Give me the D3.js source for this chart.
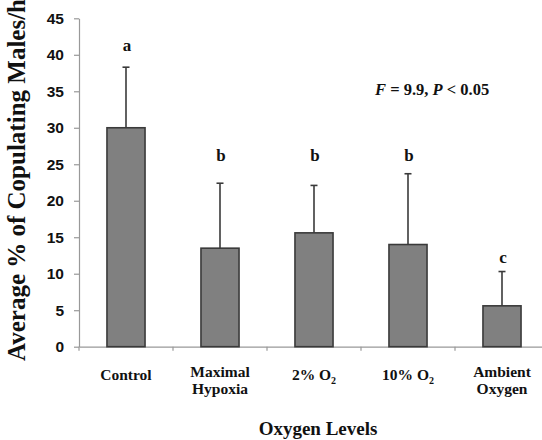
<!DOCTYPE html>
<html><head><meta charset="utf-8">
<script src="https://cdn.jsdelivr.net/npm/d3@7"></script>
<style>body{margin:0;background:#fff}svg{display:block}</style>
</head><body>
<svg id="chart" width="542" height="440"></svg>
<script>
// ---- data ----
const categories = ["Control", "Maximal Hypoxia", "2% O2", "10% O2", "Ambient Oxygen"];
const categoryLabels = [["Control"], ["Maximal", "Hypoxia"], ["2% O₂"], ["10% O₂"], ["Ambient", "Oxygen"]];
const means = [30.0, 13.5, 15.6, 14.0, 5.6];
const errors = [8.3, 8.9, 6.5, 9.7, 4.7];
const groupLetters = ["a", "b", "b", "b", "c"];
const letterLevels = [40.5, 25.4, 25.4, 25.4, 11.5];
const yTicks = [0, 5, 10, 15, 20, 25, 30, 35, 40, 45];
const yTitle = "Average % of Copulating Males/h";
const xTitle = "Oxygen Levels";

const svg = d3.select("#chart");
svg.append("rect").attr("width", 542).attr("height", 440).attr("fill", "#fff");

const y = d3.scaleLinear().domain([0, 45]).range([346.7, 18.3]);
const x = d3.scaleBand().domain(categories).range([79, 549]).paddingInner(0).paddingOuter(0);
const axisColor = "#999";
const serif = "'Liberation Serif', 'Times New Roman', serif";
const sans = "'Liberation Sans', Arial, sans-serif";

// y axis
const gy = svg.append("g").attr("transform", "translate(79,0)")
  .call(d3.axisLeft(y).tickValues(yTicks).tickSize(5).tickPadding(10).tickSizeOuter(0));
gy.select(".domain").attr("stroke", axisColor).attr("stroke-width", 1.2);
gy.selectAll(".tick line").attr("stroke", axisColor).attr("stroke-width", 1.2);
gy.selectAll(".tick text").attr("font-family", sans).attr("font-weight", "bold")
  .attr("font-size", 15.5).attr("fill", "#111");

// x axis
const gx = svg.append("g").attr("transform", `translate(0,${y(0)})`)
  .call(d3.axisBottom(x).tickSize(0).tickFormat("").tickSizeOuter(0));
gx.select(".domain").attr("stroke", axisColor).attr("stroke-width", 1.2);
gx.selectAll(".tick").remove();
svg.append("g").selectAll("line").data(categories).join("line")
  .attr("x1", d => x(d)).attr("x2", d => x(d))
  .attr("y1", y(0)).attr("y2", y(0) + 4)
  .attr("stroke", axisColor).attr("stroke-width", 1.2);

// bars
const bw = x.bandwidth() * 0.405;
const cx = d => x(d) + x.bandwidth() / 2;
svg.append("g").selectAll("rect").data(categories).join("rect")
  .attr("x", d => cx(d) - bw / 2)
  .attr("y", (d, i) => y(means[i]))
  .attr("width", bw)
  .attr("height", (d, i) => y(0) - y(means[i]))
  .attr("fill", "#808080").attr("stroke", "#3a3a3a").attr("stroke-width", 1.6);

// error bars (upper only)
const eg = svg.append("g").attr("stroke", "#3a3a3a").attr("stroke-width", 1.6);
eg.selectAll("line.v").data(categories).join("line").attr("class", "v")
  .attr("x1", cx).attr("x2", cx)
  .attr("y1", (d, i) => y(means[i])).attr("y2", (d, i) => y(means[i] + errors[i]));
eg.selectAll("line.c").data(categories).join("line").attr("class", "c")
  .attr("x1", d => cx(d) - 3.5).attr("x2", d => cx(d) + 3.5)
  .attr("y1", (d, i) => y(means[i] + errors[i])).attr("y2", (d, i) => y(means[i] + errors[i]));

// significance letters
svg.append("g").selectAll("text").data(categories).join("text")
  .attr("x", d => cx(d) + 1).attr("y", (d, i) => y(letterLevels[i]))
  .attr("text-anchor", "middle").attr("font-family", serif).attr("font-weight", "bold")
  .attr("font-size", 17).attr("fill", "#111")
  .text((d, i) => groupLetters[i]);

// category labels
const lg = svg.append("g");
categories.forEach((c, i) => {
  const lines = categoryLabels[i];
  const base = lines.length === 1 ? 380 : 377;
  const step = lines.length === 1 ? 0 : 17;
  lines.forEach((ln, j) => {
    const t = lg.append("text").attr("x", cx(c)).attr("y", base + j * step)
      .attr("text-anchor", "middle").attr("font-family", serif).attr("font-weight", "bold")
      .attr("font-size", 15.5).attr("fill", "#111");
    const parts = ln.split("₂");
    parts.forEach((p, k) => {
      if (k > 0) {
        t.append("tspan").attr("font-size", 10).attr("dy", 4).text("2");
        if (p) t.append("tspan").attr("dy", -4).text(p);
      } else {
        t.append("tspan").text(p);
      }
    });
  });
});

// axis titles
svg.append("text").attr("x", 318).attr("y", 435).attr("text-anchor", "middle")
  .attr("font-family", serif).attr("font-weight", "bold").attr("font-size", 19).attr("fill", "#111")
  .text(xTitle);
svg.append("text").attr("transform", "translate(25,361) rotate(-90)").attr("text-anchor", "start")
  .attr("font-family", serif).attr("font-weight", "bold").attr("font-size", 25).attr("fill", "#111")
  .text(yTitle);

// statistic annotation
const st = svg.append("text").attr("x", 375).attr("y", 95)
  .attr("font-family", serif).attr("font-weight", "bold").attr("font-size", 16.5).attr("fill", "#111");
st.append("tspan").attr("font-style", "italic").text("F");
st.append("tspan").text(" = 9.9, ");
st.append("tspan").attr("font-style", "italic").text("P");
st.append("tspan").text(" < 0.05");
</script>
</body></html>
